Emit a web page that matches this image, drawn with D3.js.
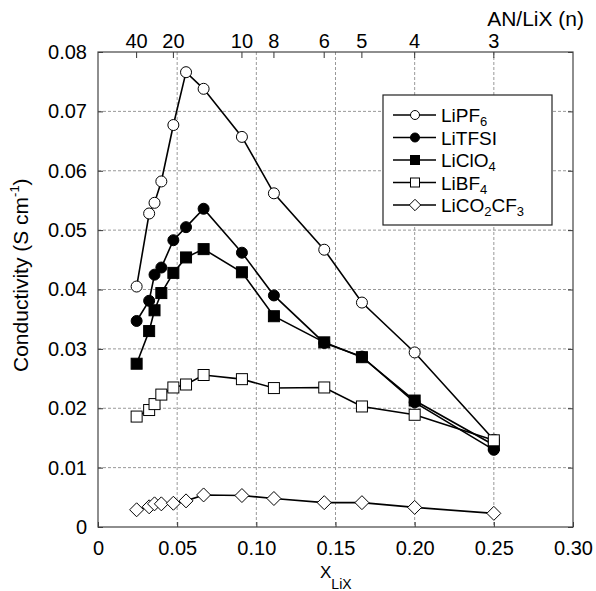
<!DOCTYPE html>
<html>
<head>
<meta charset="utf-8">
<script src="https://cdn.jsdelivr.net/npm/d3@7"></script>
<style>
  body { margin: 0; background: #fff; }
  svg { font-family: "Liberation Sans", Arial, sans-serif; }
</style>
</head>
<body>
<div id="chart"></div>
<script>
// mole fraction of salt, one per composition (AN/LiX = 40, 30, 27, 24, 20, 17, 14, 10, 8, 6, 5, 4, 3)
const xLiX = [0.0244, 0.0323, 0.0357, 0.0400, 0.0476, 0.0556, 0.0667, 0.0909, 0.1111, 0.1429, 0.1667, 0.2000, 0.2500];

const liPF6    = [0.0405, 0.0528, 0.0546, 0.0582, 0.0677, 0.0766, 0.0738, 0.0657, 0.0562, 0.0467, 0.0378, 0.0294, 0.0147];
const liTFSI   = [0.0347, 0.0381, 0.0425, 0.0437, 0.0483, 0.0505, 0.0536, 0.0462, 0.0390, 0.0310, 0.0287, 0.0210, 0.0130];
const liClO4   = [0.0275, 0.0330, 0.0365, 0.0394, 0.0428, 0.0454, 0.0468, 0.0429, 0.0355, 0.0311, 0.0286, 0.0213, 0.0138];
const liBF4    = [0.0186, 0.0197, 0.0207, 0.0223, 0.0235, 0.0240, 0.0256, 0.0249, 0.0234, 0.0235, 0.0203, 0.0189, 0.0146];
const liCO2CF3 = [0.0029, 0.0034, 0.0039, 0.0039, 0.0040, 0.0044, 0.0054, 0.0053, 0.0048, 0.0041, 0.0041, 0.0033, 0.0023];

const xTicks = [0, 0.05, 0.10, 0.15, 0.20, 0.25, 0.30];
const yTicks = [0, 0.01, 0.02, 0.03, 0.04, 0.05, 0.06, 0.07, 0.08];
const nTicks = [40, 20, 10, 8, 6, 5, 4, 3];

const series = [
  { name: ["LiPF", "6"],               values: liPF6,    shape: "circle",  fill: "#fff" },
  { name: ["LiTFSI"],                  values: liTFSI,   shape: "circle",  fill: "#000" },
  { name: ["LiClO", "4"],              values: liClO4,   shape: "square",  fill: "#000" },
  { name: ["LiBF", "4"],               values: liBF4,    shape: "square",  fill: "#fff" },
  { name: ["LiCO", "2", "CF", "3"],    values: liCO2CF3, shape: "diamond", fill: "#fff" }
];

const width = 596, height = 591;
const margin = { top: 52, right: 23, bottom: 64, left: 98 };
const iw = width - margin.left - margin.right;
const ih = height - margin.top - margin.bottom;

const svg = d3.select("#chart").append("svg")
  .attr("width", width)
  .attr("height", height);

const g = svg.append("g").attr("transform", `translate(${margin.left},${margin.top})`);

const x = d3.scaleLinear().domain([0, 0.30]).range([0, iw]);
const y = d3.scaleLinear().domain([0, 0.08]).range([ih, 0]);
// top axis: AN/LiX ratio n -> mole fraction 1/(n+1)
const xn = n => x(1 / (n + 1));

const fmt = d => d === 0 ? "0" : d3.format(".2f")(d);

// grid
g.append("g").selectAll("line")
  .data(xTicks.slice(1, -1))
  .join("line")
  .attr("x1", d => x(d)).attr("x2", d => x(d))
  .attr("y1", 0).attr("y2", ih)
  .attr("stroke", "#999").attr("stroke-width", 1)
  .attr("stroke-dasharray", "3,2");

g.append("g").selectAll("line")
  .data(yTicks.slice(1, -1))
  .join("line")
  .attr("y1", d => y(d)).attr("y2", d => y(d))
  .attr("x1", 0).attr("x2", iw)
  .attr("stroke", "#999").attr("stroke-width", 1)
  .attr("stroke-dasharray", "3,2");

// axes, ticks pointing inward
const axisStyle = sel => {
  sel.select(".domain").remove();
  sel.selectAll(".tick line").attr("stroke", "#333");
  sel.selectAll(".tick text").attr("fill", "#000").style("font-size", "20px");
};

g.append("g")
  .attr("transform", `translate(0,${ih})`)
  .call(d3.axisBottom(x).tickValues(xTicks).tickFormat(fmt).tickSizeInner(-5).tickSizeOuter(0).tickPadding(14))
  .call(axisStyle);

g.append("g")
  .call(d3.axisLeft(y).tickValues(yTicks).tickFormat(fmt).tickSizeInner(-5).tickSizeOuter(0).tickPadding(11))
  .call(axisStyle);

g.append("g")
  .attr("transform", `translate(${iw},0)`)
  .call(d3.axisRight(y).tickValues(yTicks).tickFormat("").tickSizeInner(-5).tickSizeOuter(0))
  .call(axisStyle);

const topAxis = g.append("g");
topAxis.selectAll("line")
  .data(nTicks)
  .join("line")
  .attr("x1", d => xn(d)).attr("x2", d => xn(d))
  .attr("y1", 0).attr("y2", 6)
  .attr("stroke", "#333");
topAxis.selectAll("text")
  .data(nTicks)
  .join("text")
  .attr("x", d => xn(d))
  .attr("y", -4)
  .attr("text-anchor", "middle")
  .style("font-size", "20px")
  .text(d => d);

// frame
g.append("rect")
  .attr("width", iw).attr("height", ih)
  .attr("fill", "none").attr("stroke", "#444").attr("stroke-width", 1.2);

// axis titles
svg.append("text")
  .attr("x", 584).attr("y", 26)
  .attr("text-anchor", "end")
  .style("font-size", "21px")
  .text("AN/LiX (n)");

const yl = svg.append("text")
  .attr("transform", "translate(28,372) rotate(-90)")
  .style("font-size", "21px");
yl.append("tspan").text("Conductivity (S cm");
yl.append("tspan").attr("dy", -9).style("font-size", "13px").text("-1");
yl.append("tspan").attr("dy", 9).text(")");

const xl = svg.append("text")
  .attr("x", 320).attr("y", 578)
  .style("font-size", "17px");
xl.append("tspan").text("X");
xl.append("tspan").attr("dy", 11).style("font-size", "14px").text("LiX");

// markers
const marker = (sel, shape, r) => {
  if (shape === "circle") {
    sel.append("circle").attr("r", r);
  } else if (shape === "square") {
    sel.append("rect").attr("x", -r).attr("y", -r).attr("width", 2 * r).attr("height", 2 * r);
  } else {
    const k = r * 1.27;
    sel.append("path").attr("d", `M0,${-k}L${k},0L0,${k}L${-k},0Z`);
  }
};

const line = d3.line().x(d => x(d[0])).y(d => y(d[1]));

for (const s of series) {
  const pts = xLiX.map((v, i) => [v, s.values[i]]);
  const sg = g.append("g");
  sg.append("path")
    .attr("d", line(pts))
    .attr("fill", "none")
    .attr("stroke", "#000")
    .attr("stroke-width", 1.6);
  sg.selectAll("g")
    .data(pts)
    .join("g")
    .attr("transform", d => `translate(${x(d[0])},${y(d[1])})`)
    .each(function () { marker(d3.select(this), s.shape, 5.5); })
    .selectAll("*")
    .attr("fill", s.fill)
    .attr("stroke", "#000")
    .attr("stroke-width", 1);
}

// legend
const lg = svg.append("g").attr("transform", "translate(383,95)");
lg.append("rect")
  .attr("width", 169).attr("height", 130)
  .attr("fill", "#fff").attr("stroke", "#222").attr("stroke-width", 1.2);

series.forEach((s, i) => {
  const row = lg.append("g").attr("transform", `translate(0,${20 + i * 22.5})`);
  row.append("line")
    .attr("x1", 10).attr("x2", 53)
    .attr("stroke", "#000").attr("stroke-width", 1.5);
  const m = row.append("g").attr("transform", "translate(32,0)");
  marker(m, s.shape, 4.5);
  m.selectAll("*").attr("fill", s.fill).attr("stroke", "#000").attr("stroke-width", 1);
  const t = row.append("text")
    .attr("x", 58).attr("y", 7)
    .style("font-size", "19px");
  s.name.forEach((part, j) => {
    const sub = j % 2 === 1;
    t.append("tspan")
      .attr("dy", j === 0 ? 0 : (sub ? 4 : -4))
      .style("font-size", sub ? "13px" : "19px")
      .text(part);
  });
});
</script>
</body>
</html>
